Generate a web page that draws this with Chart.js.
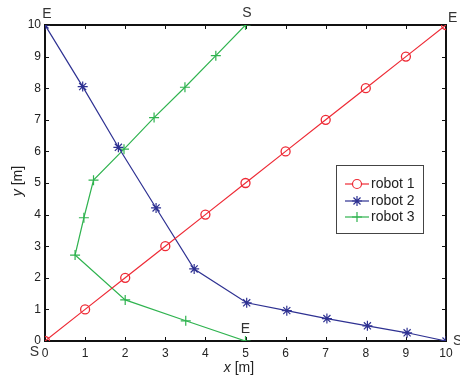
<!DOCTYPE html>
<html>
<head>
<meta charset="utf-8">
<script src="https://cdn.jsdelivr.net/npm/chart.js@4/dist/chart.umd.min.js"></script>
<style>
  html, body { margin: 0; padding: 0; background: #fff; }
  #chart { display: block; }
</style>
</head>
<body>
<canvas id="chart" width="460" height="378"></canvas>
<script>
// robot paths
const robot1X = [0, 1, 2, 3, 4, 5, 6, 7, 8, 9, 10];
const robot1Y = [0, 1, 2, 3, 4, 5, 6, 7, 8, 9, 10];

const robot2X = [0, 0.94, 1.83, 2.77, 3.72, 5.03, 6.03, 7.03, 8.04, 9.03, 10];
const robot2Y = [10, 8.05, 6.13, 4.21, 2.28, 1.21, 0.96, 0.71, 0.48, 0.26, 0];

const robot3X = [5, 3.51, 2.0, 0.75, 0.97, 1.21, 1.97, 2.72, 3.49, 4.26, 5];
const robot3Y = [0, 0.64, 1.30, 2.72, 3.90, 5.09, 6.07, 7.07, 8.03, 9.03, 10];

const seriesNames = ['robot 1', 'robot 2', 'robot 3'];
const seriesColors = ['#ee2a35', '#2e3192', '#2fb34f'];
const seriesMarkers = ['circle', 'star', 'cross'];

// start / end marks
const markText = ['S', 'E', 'S', 'E', 'S', 'E'];
const markX = [0, 10, 10, 0, 5, 5];
const markY = [0, 10, 0, 10, 10, 0];

const axisTicks = [0, 1, 2, 3, 4, 5, 6, 7, 8, 9, 10];

const ctx = document.getElementById('chart');

function toPoints(xs, ys) {
    return xs.map((x, i) => ({ x, y: ys[i] }));
}

const allX = [robot1X, robot2X, robot3X];
const allY = [robot1Y, robot2Y, robot3Y];

const datasets = seriesNames.map((name, i) => ({
    label: name,
    data: toPoints(allX[i], allY[i]),
    showLine: true,
    borderColor: seriesColors[i],
    backgroundColor: 'transparent',
    borderWidth: 1.2,
    pointStyle: seriesMarkers[i],
    pointRadius: i === 0 ? 4.5 : 5,
    pointBorderColor: seriesColors[i],
    pointBorderWidth: i === 0 ? 1.3 : 1.2,
    pointBackgroundColor: 'transparent',
    clip: 0  // markers on the border get cut off, as in the original
}));

const FONT = '"Liberation Sans", Arial, Helvetica, sans-serif';

// box with inward ticks, like the original
const boxPlugin = {
    id: 'box',
    beforeDatasetsDraw(chart) {
        const { ctx: c, chartArea: a, scales } = chart;
        c.save();
        c.strokeStyle = '#111';
        c.lineWidth = 1;
        axisTicks.forEach(v => {
            const px = Math.round(scales.x.getPixelForValue(v)) + 0.5;
            const py = Math.round(scales.y.getPixelForValue(v)) + 0.5;
            c.beginPath();
            c.moveTo(px, a.bottom); c.lineTo(px, a.bottom - 4);
            c.moveTo(px, a.top); c.lineTo(px, a.top + 4);
            c.moveTo(a.left, py); c.lineTo(a.left + 4, py);
            c.moveTo(a.right, py); c.lineTo(a.right - 4, py);
            c.stroke();
        });
        c.lineWidth = 2;
        c.strokeRect(a.left, a.top, a.right - a.left, a.bottom - a.top);
        c.restore();
    },
    afterDraw(chart) {
        const { ctx: c, chartArea: a, scales } = chart;
        c.save();

        // axis titles
        c.fillStyle = '#222';
        c.textBaseline = 'middle';
        c.font = 'italic 14px ' + FONT;
        const xw = c.measureText('x').width;
        c.font = '14px ' + FONT;
        const rw = c.measureText(' [m]').width;
        let sx = 239 - (xw + rw) / 2;
        c.textAlign = 'left';
        c.font = 'italic 14px ' + FONT;
        c.fillText('x', sx, 368);
        c.font = '14px ' + FONT;
        c.fillText(' [m]', sx + xw, 368);

        c.save();
        c.translate(18, 181);
        c.rotate(-Math.PI / 2);
        sx = -(xw + rw) / 2;
        c.font = 'italic 14px ' + FONT;
        c.fillText('y', sx, 0);
        c.font = '14px ' + FONT;
        c.fillText(' [m]', sx + xw, 0);
        c.restore();

        // S / E marks
        c.font = '14px ' + FONT;
        c.fillStyle = '#333';
        markText.forEach((t, i) => {
            const px = scales.x.getPixelForValue(markX[i]);
            const py = scales.y.getPixelForValue(markY[i]);
            let dx = 0, dy = -12, align = 'center';
            if (markY[i] === 10 && markX[i] === 0) { dx = 2; dy = -11; }
            else if (markY[i] === 10 && markX[i] === 10) { dx = 2; dy = -7; align = 'left'; }
            else if (markY[i] === 0 && markX[i] === 0) { dx = -10.5; dy = 11; }
            else if (markY[i] === 0 && markX[i] === 10) { dx = 7; dy = 0; align = 'left'; }
            else if (markY[i] === 10) { dx = 1.5; dy = -12; }
            c.textAlign = align;
            c.fillText(t, px + dx, py + dy);
        });

        // legend box
        const lx = 336, ly = 165, lw = 87, lh = 68;
        c.fillStyle = '#fff';
        c.fillRect(lx, ly, lw, lh);
        c.strokeStyle = '#444';
        c.lineWidth = 1;
        c.strokeRect(lx + 0.5, ly + 0.5, lw, lh);
        const rowY = [184, 201, 217];
        chart.data.datasets.forEach((ds, i) => {
            const y = rowY[i];
            c.strokeStyle = ds.borderColor;
            c.lineWidth = 1.2;
            c.beginPath();
            c.moveTo(345, y); c.lineTo(369, y);
            c.stroke();
            Chart.helpers.drawPoint(c, {
                pointStyle: ds.pointStyle,
                radius: ds.pointRadius,
                borderWidth: ds.pointBorderWidth,
                rotation: 0
            }, 357, y);
            c.fillStyle = '#222';
            c.textAlign = 'left';
            c.font = '14px ' + FONT;
            c.fillText(ds.label, 371, y + 0.5);
        });
        c.restore();
    }
};

new Chart(ctx, {
    type: 'scatter',
    data: { datasets },
    options: {
        responsive: false,
        animation: false,
        events: [],
        layout: { padding: { left: 0, right: 14, top: 25, bottom: 0 } },
        plugins: {
            legend: { display: false },
            tooltip: { enabled: false }
        },
        scales: {
            x: {
                type: 'linear',
                min: 0,
                max: 10,
                grid: { display: false, drawTicks: false },
                border: { display: false },
                ticks: {
                    stepSize: 1,
                    padding: 5,
                    color: '#222',
                    maxRotation: 0,
                    font: { family: FONT, size: 12 }
                },
                afterFit(scale) { scale.height = 37; }
            },
            y: {
                type: 'linear',
                min: 0,
                max: 10,
                grid: { display: false, drawTicks: false },
                border: { display: false },
                ticks: {
                    stepSize: 1,
                    padding: 4,
                    color: '#222',
                    font: { family: FONT, size: 12 }
                },
                afterFit(scale) { scale.width = 45; }
            }
        }
    },
    plugins: [boxPlugin]
});
</script>
</body>
</html>
